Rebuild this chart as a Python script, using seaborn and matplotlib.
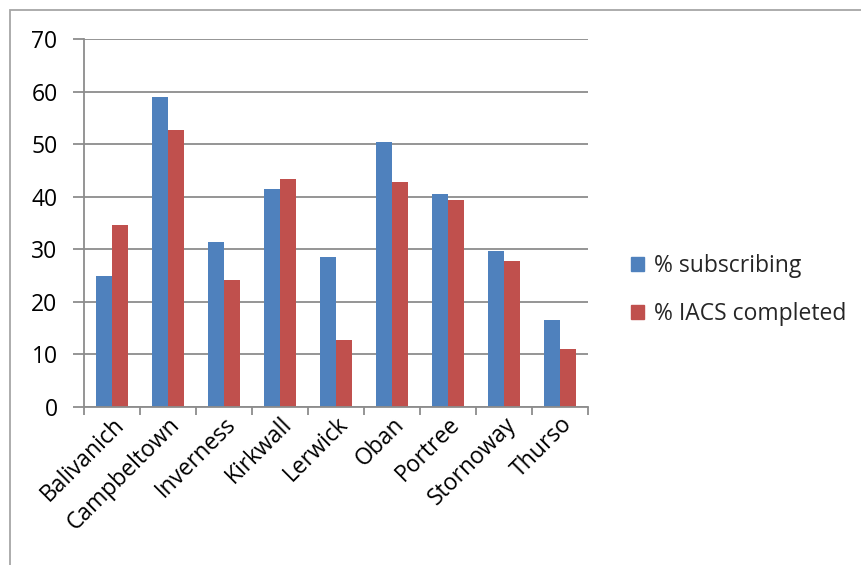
import matplotlib
matplotlib.use("Agg")
import matplotlib.pyplot as plt
import matplotlib.patches as mpatches
import numpy as np
import pandas as pd
import seaborn as sns

offices = ["Balivanich", "Campbeltown", "Inverness", "Kirkwall", "Lerwick",
           "Oban", "Portree", "Stornoway", "Thurso"]
pct_subscribing = [25.0, 58.9, 31.3, 41.5, 28.6, 50.5, 40.5, 29.7, 16.5]
pct_iacs = [34.6, 52.6, 24.1, 43.3, 12.8, 42.8, 39.3, 27.8, 11.1]
series_names = ["% subscribing", "% IACS completed"]
y_ticks = [0, 10, 20, 30, 40, 50, 60, 70]

df = pd.DataFrame({
    "office": offices * 2,
    "value": pct_subscribing + pct_iacs,
    "series": [series_names[0]] * len(offices) + [series_names[1]] * len(offices),
})

sns.set_theme(style="white")
plt.rcParams["font.family"] = ["Open Sans", "DejaVu Sans"]

colors = ["#4F81BD", "#C0504D"]
grid_c = "#8C8C8C"
fs = 16.5

fig = plt.figure(figsize=(8.62, 5.65), dpi=100)
ax = fig.add_axes([84 / 862, 1 - 407 / 565, 504 / 862, 368 / 565])

sns.barplot(data=df, x="office", y="value", hue="series", palette=colors,
            width=0.57, ax=ax, legend=False, saturation=1,
            edgecolor="none", linewidth=0)

ax.set_ylim(0, 70)
ax.set_xlim(-0.5, len(offices) - 0.5)
ax.set_yticks(y_ticks)
ax.set_yticklabels([str(t) for t in y_ticks], fontsize=fs, color="black")
ax.yaxis.grid(True, color=grid_c, linewidth=1.3)
ax.set_axisbelow(True)
ax.set_xlabel("")
ax.set_ylabel("")

# category labels on major ticks, tick marks at category boundaries
ax.set_xticks(range(len(offices)))
ax.set_xticklabels(offices, rotation=45, ha="right", rotation_mode="anchor",
                   fontsize=fs, color="black")
ax.set_xticks(np.arange(-0.5, len(offices)), minor=True)
ax.tick_params(axis="x", which="major", length=0, pad=4)
ax.tick_params(axis="x", which="minor", length=6, width=1.3, color=grid_c,
               direction="out", bottom=True)
ax.tick_params(axis="y", length=8, width=1.3, color=grid_c, direction="out",
               left=True, pad=11)

for side in ["top", "right"]:
    ax.spines[side].set_visible(False)
for side in ["left", "bottom"]:
    ax.spines[side].set_color(grid_c)
    ax.spines[side].set_linewidth(1.3)

handles = [mpatches.Patch(color=c, label=n) for c, n in zip(colors, series_names)]
fig.legend(handles=handles, loc="center left", bbox_to_anchor=(610 / 862, 1 - 290 / 565),
           frameon=False, fontsize=fs, handlelength=0.6, handleheight=0.6,
           handletextpad=0.4, labelspacing=1.05)

# chart frame
fig.add_artist(mpatches.Rectangle((10 / 862, -0.1), 1.1, 1 - 10 / 565 + 0.1,
                                  transform=fig.transFigure, fill=False,
                                  edgecolor="#A6A6A6", linewidth=1.3))

fig.savefig("out.png", dpi=100)
